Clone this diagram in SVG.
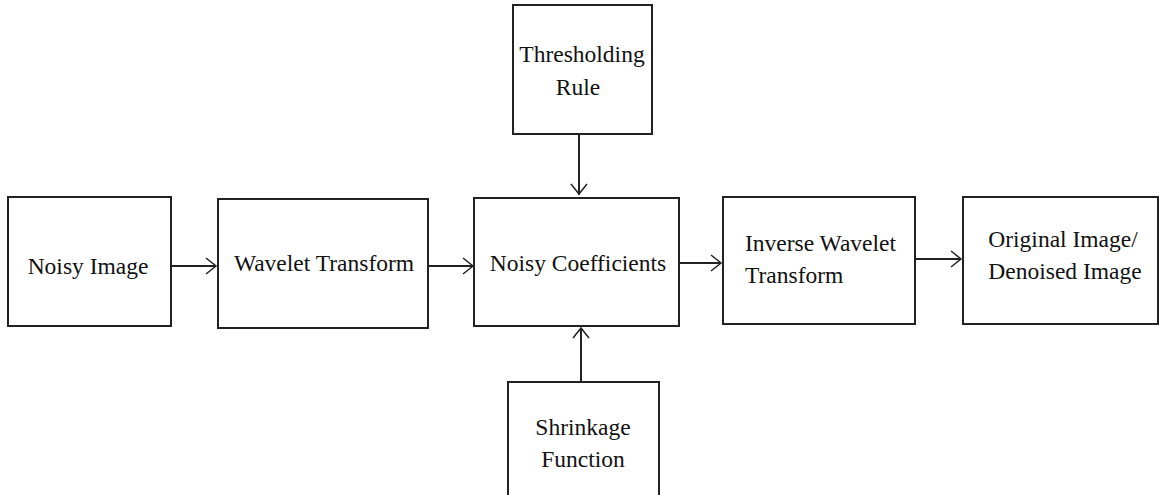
<svg xmlns="http://www.w3.org/2000/svg" width="1159" height="495" viewBox="0 0 1159 495">
<style>
.box{fill:#fff;stroke:#222;stroke-width:2}
.lbl{font-family:"Liberation Serif","Times New Roman",serif;font-size:23.5px;fill:#111}
.c{text-anchor:middle}
.conn{stroke:#222;stroke-width:2;fill:none}
.head{stroke:#222;stroke-width:1.5;fill:none}
</style>
<rect width="1159" height="495" fill="#fff"/>
<g id="noisy-image"><rect class="box" x="8" y="197" width="163" height="129"/><text class="lbl c" x="88" y="274">Noisy Image</text></g>
<g id="wavelet-transform"><rect class="box" x="218" y="199" width="210" height="129"/><text class="lbl c" x="324" y="271">Wavelet Transform</text></g>
<g id="noisy-coefficients"><rect class="box" x="474" y="198" width="205" height="128"/><text class="lbl c" x="578" y="271">Noisy Coefficients</text></g>
<g id="inverse-wavelet"><rect class="box" x="723" y="197" width="192" height="127"/><text class="lbl" x="745" y="251">Inverse Wavelet</text><text class="lbl" x="745" y="283">Transform</text></g>
<g id="original-image"><rect class="box" x="963" y="197" width="195" height="127"/><text class="lbl c" x="1063" y="247">Original Image/</text><text class="lbl c" x="1065" y="279">Denoised Image</text></g>
<g id="thresholding-rule"><rect class="box" x="513" y="5" width="139" height="129"/><text class="lbl c" x="582" y="62">Thresholding</text><text class="lbl c" x="578" y="95">Rule</text></g>
<g id="shrinkage-function"><rect class="box" x="508" y="382" width="151" height="120"/><text class="lbl c" x="583" y="435">Shrinkage</text><text class="lbl c" x="583" y="467">Function</text></g>
<g id="connectors">
<path class="conn" d="M171,266H216"/><path class="head" d="M206,258L216,266L206,274"/>
<path class="conn" d="M428,266H473"/><path class="head" d="M463,258L473,266L463,274"/>
<path class="conn" d="M679,263H721"/><path class="head" d="M711,255L721,263L711,271"/>
<path class="conn" d="M915,259H961"/><path class="head" d="M951,251L961,259L951,267"/>
<path class="conn" d="M579,134V195"/><path class="head" d="M571,184L579,194L587,184"/>
<path class="conn" d="M581,382V328"/><path class="head" d="M573,338L581,328L589,338"/>
</g>
</svg>
